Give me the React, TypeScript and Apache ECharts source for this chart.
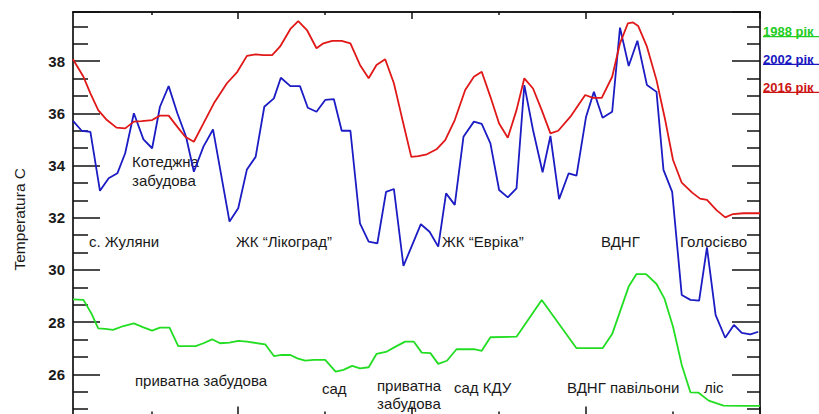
import React, { useEffect, useRef } from "react";
import * as echarts from "echarts";

// distance along the transect (axis units) and temperature (°C)
const X_1988 = [0.10,0.22,0.31,0.39,0.47,0.56,0.68,0.80,0.91,1.01,1.10,1.21,1.31,1.51,1.60,1.70,1.79,1.90,2.00,2.10,2.22,2.31,2.41,2.50,2.60,2.68,2.77,2.87,3.00,3.12,3.21,3.31,3.40,3.50,3.59,3.71,3.82,3.92,4.02,4.11,4.21,4.30,4.40,4.51,4.71,4.80,4.90,5.20,5.49,5.89,6.19,6.30,6.49,6.58,6.69,6.81,6.90,7.00,7.10,7.20,7.29,7.41,7.58,7.81,8.00];
const T_1988 = [28.87,28.85,28.34,27.76,27.74,27.70,27.85,27.95,27.80,27.67,27.79,27.79,27.08,27.08,27.19,27.34,27.19,27.21,27.28,27.25,27.19,27.15,26.70,26.74,26.74,26.61,26.52,26.55,26.55,26.10,26.17,26.32,26.23,26.27,26.78,26.87,27.08,27.25,27.25,26.83,26.81,26.40,26.52,26.96,26.96,26.90,27.42,27.44,28.85,27.00,27.00,27.54,29.36,29.84,29.84,29.46,28.91,27.82,26.36,25.31,25.30,24.99,24.80,24.79,24.79];

const X_2002 = [0.10,0.20,0.30,0.41,0.51,0.61,0.70,0.80,0.91,1.01,1.10,1.20,1.30,1.40,1.49,1.60,1.71,1.90,2.00,2.10,2.20,2.30,2.41,2.49,2.60,2.71,2.80,2.90,3.00,3.10,3.19,3.29,3.40,3.50,3.60,3.70,3.79,3.90,4.00,4.10,4.20,4.30,4.39,4.49,4.59,4.71,4.80,4.90,5.00,5.10,5.20,5.29,5.39,5.50,5.59,5.69,5.80,5.89,6.00,6.09,6.19,6.30,6.39,6.49,6.59,6.70,6.81,6.89,6.99,7.10,7.20,7.30,7.39,7.49,7.60,7.70,7.79,7.89,7.98];
const T_2002 = [35.71,35.33,35.29,33.03,33.51,33.70,34.47,36.00,35.00,34.66,36.25,37.04,36.00,35.10,33.76,34.72,35.38,31.85,32.36,33.85,34.33,36.25,36.57,37.36,37.04,37.04,36.21,36.06,36.51,36.54,35.33,35.33,31.78,31.08,31.02,32.99,33.10,30.15,30.95,31.75,31.46,30.89,32.93,32.49,35.10,35.68,35.59,34.85,33.06,32.78,33.12,37.08,35.36,33.74,35.13,32.71,33.70,33.61,35.87,36.82,35.83,36.06,39.28,37.81,38.78,37.08,36.82,33.83,32.99,29.04,28.85,28.82,30.86,28.27,27.40,27.89,27.59,27.53,27.63];

const X_2016 = [0.10,0.22,0.30,0.39,0.49,0.60,0.70,0.80,0.89,1.01,1.10,1.20,1.30,1.39,1.49,1.60,1.72,1.87,1.99,2.10,2.20,2.29,2.39,2.48,2.60,2.69,2.79,2.90,2.98,3.08,3.19,3.29,3.40,3.50,3.59,3.69,3.79,3.88,3.99,4.07,4.17,4.28,4.38,4.49,4.61,4.71,4.80,4.90,5.00,5.10,5.20,5.29,5.39,5.49,5.59,5.68,5.82,5.99,6.08,6.18,6.30,6.39,6.48,6.54,6.60,6.70,6.81,6.91,7.00,7.10,7.22,7.31,7.39,7.50,7.60,7.69,7.81,8.00];
const T_2016 = [38.07,37.40,36.76,36.12,35.74,35.45,35.42,35.68,35.70,35.74,35.91,35.91,35.48,35.10,34.91,35.61,36.38,37.15,37.59,38.20,38.26,38.23,38.23,38.55,39.23,39.53,39.19,38.49,38.68,38.77,38.77,38.68,37.85,37.34,37.85,38.07,37.15,35.87,34.33,34.36,34.43,34.62,34.97,35.74,36.89,37.40,37.59,36.63,35.61,35.06,36.12,37.34,36.95,36.12,35.23,35.33,35.87,36.70,36.59,36.59,37.40,38.68,39.44,39.48,39.34,38.55,37.27,35.74,34.21,33.34,32.96,32.73,32.68,32.29,32.01,32.14,32.17,32.17];

const SERIES_NAMES = ["1988 рік", "2002 рік", "2016 рік"];
const SERIES_COLORS = ["#22dd22", "#1c1cc4", "#e01818"];
const LEGEND_COLORS = ["#22cc22", "#1818c0", "#cc1414"];

const X_MIN = 0.1;
const X_MAX = 8;
const X_MAJOR = [2, 4, 6, 8];
const X_MINOR = [1, 3, 5, 7];
const Y_MIN = 24;
const Y_MAX = 39.88;

const LABELS_TOP = [
  { text: "Котеджна\nзабудова", x: 132, y: 171, lh: 19 },
  { text: "с. Жуляни", x: 89, y: 241 },
  { text: "ЖК “Лікоград”", x: 236, y: 241 },
  { text: "ЖК “Евріка”", x: 442, y: 241 },
  { text: "ВДНГ", x: 601, y: 241 },
  { text: "Голосієво", x: 680, y: 241 },
  { text: "приватна забудова", x: 135, y: 380 },
  { text: "сад", x: 322, y: 388 },
  { text: "приватна\nзабудова", x: 377, y: 394, lh: 18 },
  { text: "сад КДУ", x: 454, y: 387 },
  { text: "ВДНГ павільони", x: 567, y: 387 },
  { text: "ліс", x: 704, y: 387 },
];

const FONT = '"Liberation Sans", Arial, sans-serif';

function pairs(xs: number[], ys: number[]) {
  return xs.map((x, i) => [x, ys[i]]);
}

export default function App() {
  const ref = useRef<HTMLDivElement>(null);
  useEffect(() => {
    if (!ref.current) return;
    const chart = echarts.init(ref.current, null, { renderer: "svg" });
    const axisLine = { show: true, lineStyle: { color: "#111", width: 1.7 } };
    const tickStyle = { color: "#111", width: 1.5 };
    const xBase = {
      type: "value",
      min: X_MIN,
      max: X_MAX,
      axisLine,
      axisLabel: { show: false },
      splitLine: { show: false },
    };
    const yBase = {
      type: "value",
      min: Y_MIN,
      max: Y_MAX,
      interval: 2,
      axisLine,
      splitLine: { show: false },
      minorSplitLine: { show: false },
    };
    const legendGraphics: any[] = [];
    const ly = [31.7, 59.3, 87.3];
    SERIES_NAMES.forEach((n, i) => {
      legendGraphics.push({
        type: "text",
        x: 763,
        y: ly[i],
        style: {
          text: n,
          fill: LEGEND_COLORS[i],
          fontFamily: FONT,
          fontSize: 13,
          fontWeight: "bold",
          verticalAlign: "middle",
          align: "left",
        },
      });
      legendGraphics.push({
        type: "line",
        shape: { x1: 763, y1: ly[i] + 5, x2: 819, y2: ly[i] + 5 },
        style: { stroke: LEGEND_COLORS[i], lineWidth: 1.2 },
      });
    });
    const textGraphics = LABELS_TOP.map((l) => ({
      type: "text",
      x: l.x,
      y: l.y,
      style: {
        text: l.text,
        fill: "#1a1a1a",
        fontFamily: FONT,
        fontSize: 15,
        lineHeight: l.lh || 18,
        verticalAlign: "middle",
        align: "left",
      },
    }));
    chart.setOption({
      animation: false,
      backgroundColor: "#fff",
      grid: { left: 73, right: 59, top: 12, bottom: 13.5, outerBoundsMode: "none" },
      xAxis: [
        { ...xBase, position: "bottom", axisTick: { show: true, inside: true, length: 20, customValues: X_MAJOR, lineStyle: tickStyle } },
        { ...xBase, position: "bottom", axisTick: { show: true, inside: true, length: 15, customValues: X_MINOR, lineStyle: tickStyle } },
        { ...xBase, position: "top", axisTick: { show: true, inside: true, length: 7, customValues: X_MAJOR, lineStyle: tickStyle } },
        { ...xBase, position: "top", axisTick: { show: true, inside: true, length: 3, customValues: X_MINOR, lineStyle: tickStyle } },
      ],
      yAxis: [
        {
          ...yBase,
          position: "left",
          name: "Temperatura C",
          nameLocation: "middle",
          nameGap: 46,
          nameTextStyle: { fontFamily: FONT, fontSize: 15.5, color: "#1a1a1a" },
          axisTick: { show: true, inside: true, length: 27, lineStyle: tickStyle },
          minorTick: { show: true, splitNumber: 3, length: 15, lineStyle: tickStyle },
          axisLabel: {
            margin: 8,
            fontFamily: FONT,
            fontSize: 15,
            fontWeight: "bold",
            color: "#1a1a1a",
            formatter: (v: number) => (Number.isInteger(v) && v > Y_MIN ? String(v) : ""),
          },
        },
        {
          ...yBase,
          position: "right",
          axisLabel: { show: false },
          axisTick: { show: true, inside: true, length: 28, lineStyle: tickStyle },
          minorTick: { show: true, splitNumber: 3, length: 13, lineStyle: tickStyle },
        },
      ],
      series: [
        { name: SERIES_NAMES[0], type: "line", data: pairs(X_1988, T_1988) },
        { name: SERIES_NAMES[1], type: "line", data: pairs(X_2002, T_2002) },
        { name: SERIES_NAMES[2], type: "line", data: pairs(X_2016, T_2016) },
      ].map((s, i) => ({
        ...s,
        showSymbol: false,
        symbol: "none",
        xAxisIndex: 0,
        yAxisIndex: 0,
        lineStyle: { color: SERIES_COLORS[i], width: 1.8 },
        itemStyle: { color: SERIES_COLORS[i] },
      })),
      graphic: [...textGraphics, ...legendGraphics],
    });
    return () => chart.dispose();
  }, []);
  return (
    <div
      style={{
        position: "fixed",
        left: 0,
        top: 0,
        width: 819,
        height: 414,
        overflow: "hidden",
        background: "#fff",
      }}
    >
      <div ref={ref} style={{ width: 819, height: 440 }} />
    </div>
  );
}
